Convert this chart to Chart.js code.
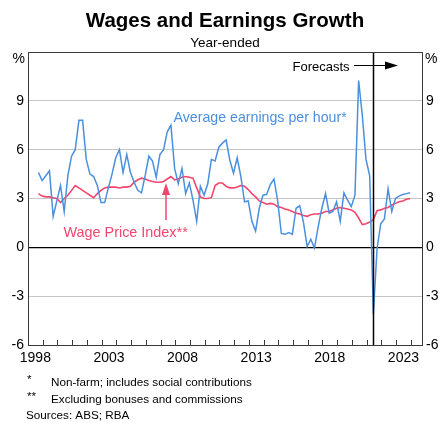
<!DOCTYPE html>
<html><head><meta charset="utf-8">
<script src="https://cdn.jsdelivr.net/npm/chart.js@4.4.1/dist/chart.umd.min.js"></script>
<style>html,body{margin:0;padding:0;background:#fff;} canvas{display:block;}</style>
</head><body>
<canvas id="c" width="440" height="423"></canvas>
<script>
const FONT = '"Liberation Sans", Arial, Helvetica, sans-serif';
const title = 'Wages and Earnings Growth';
const subtitle = 'Year-ended';
const firstYear = 1998, firstMonth = 9; // first quarter: Sep 1998
const earnings = [
 4.6,4.1,4.4,4.7,1.9,2.85,3.8,2.2,4.4,5.6,
 6.0,7.8,7.8,5.4,4.5,4.35,3.8,2.75,2.75,3.65,
 4.5,5.5,6.0,4.6,5.7,4.6,4.0,3.5,3.35,4.4,
 5.6,5.3,4.3,5.7,6.0,7.1,7.5,4.85,3.9,4.85,
 3.3,3.95,2.9,1.6,3.75,3.2,3.9,5.4,5.3,6.15,
 6.4,6.6,5.35,4.55,5.5,4.35,2.8,2.85,1.6,1.0,
 2.4,3.2,3.25,3.85,4.2,2.85,0.85,0.8,0.9,0.8,
 2.4,2.55,1.55,0.05,0.5,-0.05,1.25,2.4,3.3,2.1,
 2.2,2.8,1.6,3.35,2.9,2.5,3.2,10.25,8.1,5.4,
 4.4,-4.1,-0.1,1.45,1.75,3.6,2.2,3.0,3.15,3.25,
 3.3,3.35];
const wpi = [
 3.3,3.15,3.1,3.1,3.05,3.0,2.75,3.0,3.2,3.5,
 3.8,3.65,3.5,3.35,3.2,3.05,3.3,3.5,3.65,3.7,
 3.7,3.7,3.65,3.7,3.7,3.75,4.0,4.15,4.25,4.2,
 4.1,4.05,4.0,4.0,4.05,4.2,4.35,4.15,4.2,4.3,
 4.35,4.3,4.25,3.65,3.1,3.0,3.0,3.05,3.8,3.95,
 3.95,3.75,3.65,3.65,3.7,3.8,3.75,3.55,3.3,3.1,
 2.85,2.75,2.65,2.7,2.65,2.5,2.45,2.35,2.3,2.2,
 2.1,2.05,1.95,1.9,2.0,2.05,2.05,2.1,2.2,2.2,
 2.3,2.4,2.45,2.4,2.35,2.3,2.15,1.8,1.4,1.45,
 1.55,1.7,2.25,2.3,2.4,2.45,2.6,2.7,2.8,2.85,
 2.95,3.0];
const forecastFrom = 'Jun-2021';
const xTickYears = [1998, 2003, 2008, 2013, 2018, 2023];
const yTicks = [-6, -3, 0, 3, 6, 9, 12];
const earningsLabel = 'Average earnings per hour*';
const wpiLabel = 'Wage Price Index**';
const forecastLabel = 'Forecasts';
const footnotes = [['*', 'Non-farm; includes social contributions'], ['**', 'Excluding bonuses and commissions']];
const sources = 'Sources: ABS; RBA';

const MONTHS = ['Jan','Feb','Mar','Apr','May','Jun','Jul','Aug','Sep','Oct','Nov','Dec'];
const quarters = earnings.map((_, i) => {
  const m0 = firstMonth - 1 + 3 * i;
  return MONTHS[m0 % 12] + '-' + (firstYear + Math.floor(m0 / 12));
});
function qToX(label) { const p = label.split('-'); return +p[1] + (MONTHS.indexOf(p[0]) + 0.5) / 12; }

const BLUE = '#4a90dc', RED = '#f2466c';

function arrowHead(ctx, x, y, dir, len, half) {
  ctx.beginPath();
  if (dir === 'up') { ctx.moveTo(x, y); ctx.lineTo(x - half, y + len); ctx.lineTo(x + half, y + len); }
  else { ctx.moveTo(x, y); ctx.lineTo(x - len, y - half); ctx.lineTo(x - len, y + half); }
  ctx.closePath(); ctx.fill();
}

const deco = {
  id: 'deco',
  beforeDraw(chart) {
    const c = chart.ctx; c.save(); c.fillStyle = '#fff'; c.fillRect(0, 0, chart.width, chart.height); c.restore();
  },
  afterDatasetsDraw(chart) {
    const c = chart.ctx, a = chart.chartArea, xs = chart.scales.x;
    c.save();
    const fx = Math.round(xs.getPixelForValue(qToX(forecastFrom))) + 0.5;
    c.strokeStyle = '#000'; c.lineWidth = 1.5;
    c.beginPath(); c.moveTo(fx, a.top); c.lineTo(fx, a.bottom); c.stroke();
    c.strokeStyle = '#3a3a3a'; c.lineWidth = 1;
    c.strokeRect(Math.round(a.left) + 0.5, Math.round(a.top) + 0.5, Math.round(a.right - a.left) - 1, Math.round(a.bottom - a.top));
    for (let yr = Math.ceil(xs.min); yr <= xs.max; yr++) {
      const px = Math.round(xs.getPixelForValue(yr)) + 0.5;
      c.beginPath(); c.moveTo(px, a.bottom); c.lineTo(px, a.bottom - 5); c.stroke();
    }
    c.restore();
  },
  afterDraw(chart) {
    const c = chart.ctx, a = chart.chartArea;
    c.save();
    c.fillStyle = '#000'; c.textAlign = 'center'; c.textBaseline = 'alphabetic';
    c.font = 'bold 20.5px ' + FONT; c.fillText(title, 225, 27);
    c.font = '13.5px ' + FONT; c.fillText(subtitle, 225, 46.5);
    c.font = '14px ' + FONT; c.textBaseline = 'middle';
    c.textAlign = 'right'; c.fillText('%', a.left - 3, a.top + 7);
    c.textAlign = 'left'; c.fillText('%', a.right + 2, a.top + 7);
    c.textBaseline = 'alphabetic'; c.textAlign = 'left';
    c.fillStyle = BLUE; c.font = '14.2px ' + FONT; c.fillText(earningsLabel, 173.5, 122);
    c.fillStyle = RED; c.font = '14.4px ' + FONT; c.fillText(wpiLabel, 63.5, 237);
    c.strokeStyle = RED; c.lineWidth = 1.5;
    c.beginPath(); c.moveTo(166, 220); c.lineTo(166, 192); c.stroke();
    arrowHead(c, 166, 183, 'up', 12, 4);
    c.fillStyle = '#000'; c.font = '13px ' + FONT; c.fillText(forecastLabel, 292.5, 70.5);
    c.strokeStyle = '#000'; c.lineWidth = 1;
    c.beginPath(); c.moveTo(354, 65.5); c.lineTo(388, 65.5); c.stroke();
    arrowHead(c, 398, 65.5, 'right', 13, 4);
    c.font = '11.7px ' + FONT; c.fillStyle = '#000';
    footnotes.forEach((f, i) => {
      const y = 385.5 + i * 17;
      c.fillText(f[0], 27, y - 3);
      c.fillText(f[1], 51, y);
    });
    c.fillText(sources, 26, 418.5);
    c.restore();
  }
};

const gridColor = (ctx) => {
  const v = ctx.tick.value;
  if (v === 0) return '#000';
  if (v === 12 || v === -6) return 'rgba(0,0,0,0)';
  return '#c6c6c6';
};
const yTickCb = (v) => (v === 12 ? '' : String(v));

new Chart(document.getElementById('c'), {
  type: 'line',
  data: {
    datasets: [
      { label: earningsLabel, data: quarters.map((q, i) => ({ x: qToX(q), y: earnings[i] })),
        borderColor: BLUE, borderWidth: 1.5, pointRadius: 0, tension: 0, fill: false },
      { label: wpiLabel, data: quarters.map((q, i) => ({ x: qToX(q), y: wpi[i] })),
        borderColor: RED, borderWidth: 1.6, pointRadius: 0, tension: 0, fill: false }
    ]
  },
  options: {
    responsive: false, animation: false, devicePixelRatio: 1,
    layout: { padding: { top: 52, left: 0, right: 0, bottom: 0 } },
    plugins: { legend: { display: false }, tooltip: { enabled: false }, title: { display: false } },
    scales: {
      x: {
        type: 'linear', min: 1998, max: 2024.83,
        grid: { display: false, drawTicks: false }, border: { display: false },
        afterBuildTicks: (s) => { s.ticks = xTickYears.map(y => ({ value: y + 0.5 })); },
        afterFit: (s) => { s.height = 78; },
        ticks: { autoSkip: false, maxRotation: 0, padding: 5, color: '#000',
          font: { family: FONT, size: 14 }, callback: (v, i) => String(xTickYears[i]) }
      },
      y: {
        position: 'left', min: -6, max: 12,
        afterBuildTicks: (s) => { s.ticks = yTicks.map(v => ({ value: v })); },
        afterFit: (s) => { s.width = 28; },
        grid: { color: gridColor, lineWidth: (ctx) => (ctx.tick.value === 0 ? 1.3 : 1), drawTicks: false },
        border: { display: false },
        ticks: { padding: 4, color: '#000', font: { family: FONT, size: 14 }, callback: yTickCb }
      },
      y2: {
        position: 'right', min: -6, max: 12,
        afterBuildTicks: (s) => { s.ticks = yTicks.map(v => ({ value: v })); },
        afterFit: (s) => { s.width = 17; },
        grid: { display: false, drawTicks: false }, border: { display: false },
        ticks: { padding: 3, color: '#000', font: { family: FONT, size: 14 }, callback: yTickCb }
      }
    }
  },
  plugins: [deco]
});
</script>
</body></html>
